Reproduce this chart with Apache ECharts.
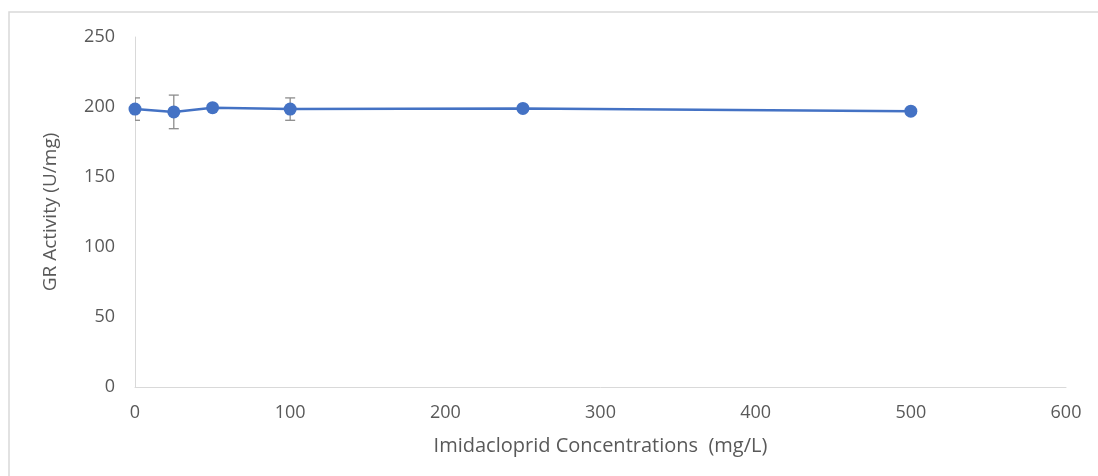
<!DOCTYPE html>
<html>
<head>
<meta charset="utf-8">
<script src="https://cdn.jsdelivr.net/npm/echarts@6/dist/echarts.min.js"></script>
<style>
html,body{margin:0;padding:0;background:#fff;}
#c{width:1098px;height:476px;}
</style>
</head>
<body>
<div id="c"></div>
<script>
var concentrations = [0, 25, 50, 100, 250, 500];
var grActivity = [198.5, 196.5, 199.5, 198.5, 199, 197];
var errors = [8, 12, 1, 8, 1, 1];
var xTicks = [0, 100, 200, 300, 400, 500, 600];
var yTicks = [0, 50, 100, 150, 200, 250];

var lineData = concentrations.map(function(c, i){ return [c, grActivity[i]]; });
var errData = concentrations.map(function(c, i){ return [c, grActivity[i] - errors[i], grActivity[i] + errors[i]]; });

var chart = echarts.init(document.getElementById('c'));
var font = '"Open Sans", sans-serif';
chart.setOption({
  animation: false,
  backgroundColor: '#fff',
  graphic: [{
    type: 'rect',
    shape: {x: 9, y: 12, width: 1200, height: 600},
    style: {fill: 'none', stroke: '#d9d9d9', lineWidth: 1.5},
    silent: true, z: -10
  }],
  grid: {left: 135, right: 32, top: 37, bottom: 89},
  xAxis: {
    type: 'value', min: 0, max: 600, interval: 100,
    name: 'Imidacloprid Concentrations  (mg/L)',
    nameLocation: 'middle', nameGap: 49,
    nameTextStyle: {color: '#595959', fontSize: 20, fontFamily: font},
    axisLine: {show: true, lineStyle: {color: '#d9d9d9', width: 1}},
    axisTick: {show: false},
    splitLine: {show: false},
    axisLabel: {color: '#595959', fontSize: 18, fontFamily: font, margin: 17,
      formatter: function(v){ return xTicks.indexOf(v) >= 0 ? String(v) : ''; }}
  },
  yAxis: {
    type: 'value', min: 0, max: 250, interval: 50,
    name: 'GR Activity (U/mg)',
    nameLocation: 'middle', nameGap: 75,
    nameTextStyle: {color: '#595959', fontSize: 19, fontFamily: font},
    axisLine: {show: true, lineStyle: {color: '#d9d9d9', width: 1}},
    axisTick: {show: false},
    splitLine: {show: false},
    axisLabel: {color: '#595959', fontSize: 18, fontFamily: font, margin: 20,
      formatter: function(v){ return yTicks.indexOf(v) >= 0 ? String(v) : ''; }}
  },
  series: [{
    type: 'custom',
    data: errData,
    clip: true,
    z: 3,
    renderItem: function(params, api){
      var x = api.value(0);
      var lo = api.coord([x, api.value(1)]);
      var hi = api.coord([x, api.value(2)]);
      var hw = 5;
      var st = {stroke: '#8c8c8c', lineWidth: 1.3, fill: 'none'};
      return {type: 'group', children: [
        {type: 'line', shape: {x1: lo[0], y1: lo[1], x2: hi[0], y2: hi[1]}, style: st},
        {type: 'line', shape: {x1: lo[0]-hw, y1: lo[1], x2: lo[0]+hw, y2: lo[1]}, style: st},
        {type: 'line', shape: {x1: hi[0]-hw, y1: hi[1], x2: hi[0]+hw, y2: hi[1]}, style: st}
      ]};
    }
  }, {
    type: 'line',
    data: lineData,
    z: 5,
    symbol: 'circle',
    symbolSize: 13,
    itemStyle: {color: '#4472c4'},
    lineStyle: {color: '#4472c4', width: 2.5}
  }]
});
</script>
</body>
</html>
